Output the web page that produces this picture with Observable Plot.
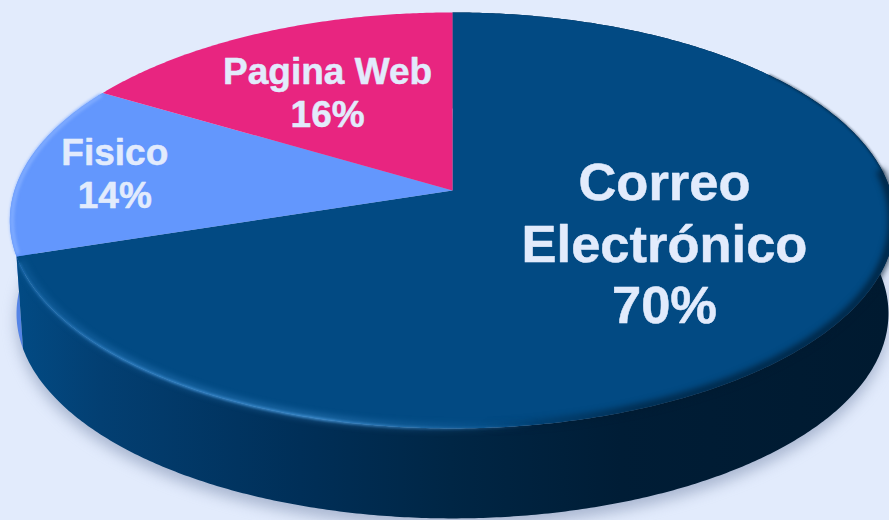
<!DOCTYPE html>
<html lang="es">
<head>
<meta charset="utf-8">
<title>Correo Electrónico, Fisico, Pagina Web</title>
<script src="https://cdn.jsdelivr.net/npm/d3@7"></script>
<script src="https://cdn.jsdelivr.net/npm/@observablehq/plot@0.6"></script>
<style>
  html, body { margin: 0; padding: 0; background: #e2ebfc; overflow: hidden; }
  svg { display: block; }
</style>
</head>
<body>
<div id="chart"></div>
<script>
// Data (clockwise from 12 o'clock)
const categories = ["Correo Electrónico", "Fisico", "Pagina Web"];
const labelLines = ["Correo\nElectrónico", "Fisico", "Pagina Web"];
const shares = [70, 13.6, 16.4];
const colors = ["#024a83", "#6397fd", "#e82580"];

// Tilted-disc view of the pie
const tilt = 0.144, thickness = 0.459, baseScale = 0.985;
function project(turnDeg, r = 1, drop = 0, scale = 1) {
  const a = turnDeg * Math.PI / 180;
  const u = r * Math.sin(a), v = r * Math.cos(a), d = 1 + tilt * v;
  return {x: scale * u / d, y: scale * v / d - drop};
}
function arc(from, to, r, drop, scale) {
  const n = Math.ceil(Math.abs(to - from)) * 2;
  return d3.range(n + 1).map(i => project(from + (to - from) * i / n, r, drop, scale));
}
let cum = 0;
const slices = shares.map((s, i) => {
  const start = cum * 3.6; cum += s;
  return {name: categories[i], share: s, color: colors[i], start, end: cum * 3.6,
          text: `${labelLines[i]}\n${Math.round(s)}%`};
});
const wall = s => [...arc(s.start, s.end, 1, 0, 1), ...arc(s.end, s.start, 1, thickness, baseScale)];
const face = s => [project(0, 0), ...arc(s.start, s.end, 1, 0, 1)];
const [correo, fisico, pagina] = slices;

const defs = () => {
  const d = d3.create("svg:defs");
  const grad = (id, stops) => {
    const g = d.append("linearGradient").attr("id", id).attr("gradientUnits", "userSpaceOnUse")
      .attr("x1", 0).attr("x2", 889).attr("y1", 0).attr("y2", 0);
    for (const [o, c, a] of stops)
      g.append("stop").attr("offset", o / 889).attr("stop-color", c).attr("stop-opacity", a);
  };
  grad("sideGrad", [[20, "#024a83", 1], [100, "#033f72", 1], [300, "#002f58", 1],
                    [450, "#002645", 1], [620, "#001d36", 1], [889, "#001a30", 1]]);
  grad("lightRim", [[15, "#2f80c4", 0.45], [120, "#3a8bd0", 0.75], [320, "#4594d6", 0.85],
                    [470, "#3a86c6", 0.3], [540, "#3a86c6", 0]]);
  grad("darkRim", [[480, "#001a30", 0], [640, "#001a30", 0.85], [889, "#001a30", 1]]);
  return d.node();
};

const label = (s, r, dx, dy, size) => Plot.text([s], {
  x: d => project((d.start + d.end) / 2, r).x,
  y: d => project((d.start + d.end) / 2, r).y,
  text: "text", dx, dy, fontSize: size, fontWeight: 700,
  fontFamily: "Liberation Sans, Arial, sans-serif", fill: "#e2ebfc",
  stroke: "#e2ebfc", strokeWidth: 0.5,
  textAnchor: "middle", lineAnchor: "middle", lineHeight: 1.17
});

const chart = Plot.plot({
  width: 889, height: 520,
  margin: 0,
  style: {background: "transparent"},
  x: {domain: [-1, 1], range: [14, 890], axis: null},
  y: {domain: [-1, 1], range: [393.7, -13.7], axis: null},
  marks: [
    defs,
    // soft shadow under the base
    Plot.line(arc(0, 360, 1, thickness + 0.04, baseScale), {x: "x", y: "y", fill: "#8c9bba", fillOpacity: 0.65, stroke: "none", imageFilter: "blur(7px)"}),
    // walls
    Plot.line(wall(fisico), {x: "x", y: "y", fill: "#5584e6", stroke: "none"}),
    Plot.line(wall(correo), {x: "x", y: "y", fill: "url(#sideGrad)", stroke: "none"}),
    // top faces
    ...slices.map(s => Plot.line(face(s), {x: "x", y: "y", fill: s.color, stroke: "none"})),
    // bevels along the top edge
    Plot.line(arc(52, 85, 1), {x: "x", y: "y", stroke: "#001a30", strokeOpacity: 0.55, strokeWidth: 2, imageFilter: "blur(1px)"}),
    Plot.line(arc(85, 180, 0.995), {x: "x", y: "y", stroke: "url(#darkRim)", strokeWidth: 8, strokeOpacity: 0.8, imageFilter: "blur(3px)"}),
    Plot.line(arc(170, 250, 0.995), {x: "x", y: "y", stroke: "url(#lightRim)", strokeWidth: 7, strokeOpacity: 0.5, imageFilter: "blur(3px)"}),
    Plot.line(arc(170, 250, 1), {x: "x", y: "y", stroke: "url(#lightRim)", strokeWidth: 2.5, imageFilter: "blur(1px)"}),
    Plot.line(arc(253, 300, 0.995), {x: "x", y: "y", stroke: "#7fabff", strokeWidth: 4, imageFilter: "blur(1.5px)"}),
    // labels
    label(correo, 0.6, -12, -24, 52.5),
    label(fisico, 0.8, 6, 0, 37),
    label(pagina, 0.7, 14, 15, 37)
  ]
});
document.getElementById("chart").append(chart);
</script>
</body>
</html>
